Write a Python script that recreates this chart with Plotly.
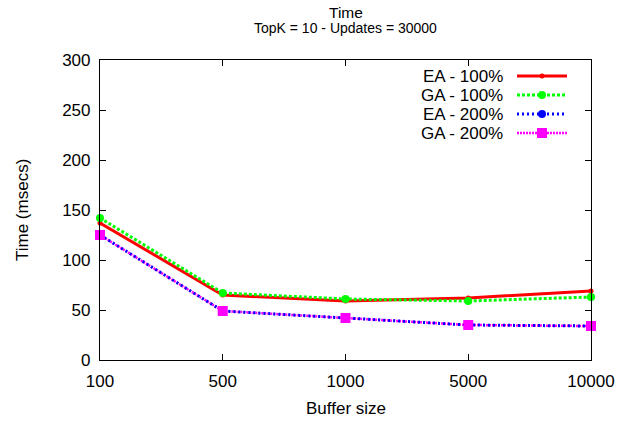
import plotly.graph_objects as go

buffer_sizes = ["100", "500", "1000", "5000", "10000"]
ea_100 = [137, 65, 59, 62, 69]
ga_100 = [142, 67, 61, 59, 63]
ea_200 = [125, 49, 42, 35, 34]
ga_200 = [125, 49, 42, 35, 34]
series_names = ["EA - 100%", "GA - 100%", "EA - 200%", "GA - 200%"]
y_ticks = [0, 50, 100, 150, 200, 250, 300]

FONT = "Liberation Sans, Arial, sans-serif"
FS = 17

styles = [
    dict(color="#ff0000", dash="solid", width=3, symbol="circle", size=5),
    dict(color="#00ff00", dash="3px,2px", width=3, symbol="circle", size=8),
    dict(color="#0000ff", dash="2px,3px", width=3, symbol="circle", size=8),
    dict(color="#ff00ff", dash="2px,1px", width=2.5, symbol="square", size=10),
]

fig = go.Figure()

def add(name, vals, st, mode):
    fig.add_trace(go.Scatter(
        x=buffer_sizes, y=vals, name=name, mode=mode,
        line=dict(color=st["color"], dash=st["dash"], width=st["width"]),
        marker=dict(color=st["color"], symbol=st["symbol"], size=st["size"]),
        cliponaxis=False, showlegend=False,
    ))

add(series_names[0], ea_100, styles[0], "lines+markers")
add(series_names[1], ga_100, styles[1], "lines+markers")
add(series_names[3], ga_200, styles[3], "lines")
add(series_names[2], ea_200, styles[2], "lines+markers")
add(series_names[3], ga_200, styles[3], "markers")

# geometry in window pixels (body margin removed via post_script)
OFF = 0
L, T, W_PLOT, H_PLOT = 100, 60, 491, 300
def px2paper(px, py):
    return (px - L) / W_PLOT, (T + H_PLOT - py) / H_PLOT

shapes = []
annotations = []
rows_py = [76, 95, 114, 133]
for name, st, py in zip(series_names, styles, rows_py):
    tx, ty = px2paper(505, py)
    annotations.append(dict(x=tx, y=ty, xref="paper", yref="paper", text=name,
                            showarrow=False, xanchor="right", yanchor="middle",
                            font=dict(family=FONT, size=FS, color="black")))
    x0, y0 = px2paper(517, py)
    x1, _ = px2paper(567, py)
    shapes.append(dict(type="line", xref="paper", yref="paper", x0=x0, x1=x1, y0=y0, y1=y0,
                       line=dict(color=st["color"], width=st["width"], dash=st["dash"])))
    r = st["size"] / 2
    cx, cy = 542, py
    a0, b0 = px2paper(cx - r, cy + r)
    a1, b1 = px2paper(cx + r, cy - r)
    shapes.append(dict(type="rect" if st["symbol"] == "square" else "circle",
                       xref="paper", yref="paper", x0=a0, x1=a1, y0=b0, y1=b1,
                       fillcolor=st["color"], line=dict(width=0)))

# titles
_, ty = px2paper(0, 12)
annotations.append(dict(x=0.5, y=ty, xref="paper", yref="paper", text="Time",
                        showarrow=False, xanchor="center", yanchor="middle",
                        font=dict(family=FONT, size=15.5, color="black")))
_, ty = px2paper(0, 28)
annotations.append(dict(x=0.5, y=ty, xref="paper", yref="paper",
                        text="TopK = 10 - Updates = 30000", showarrow=False,
                        xanchor="center", yanchor="middle",
                        font=dict(family=FONT, size=14, color="black")))
_, ty = px2paper(0, 408)
annotations.append(dict(x=0.5, y=ty, xref="paper", yref="paper", text="Buffer size",
                        showarrow=False, xanchor="center", yanchor="middle",
                        font=dict(family=FONT, size=FS, color="black")))
tx, _ = px2paper(22, 0)
annotations.append(dict(x=tx, y=0.5, xref="paper", yref="paper", text="Time (msecs)",
                        showarrow=False, xanchor="center", yanchor="middle", textangle=-90,
                        font=dict(family=FONT, size=FS, color="black")))

fig.update_layout(
    width=629, height=422,
    margin=dict(l=L - OFF, r=629 - (L - OFF) - W_PLOT, t=T - OFF, b=422 - (T - OFF) - H_PLOT),
    paper_bgcolor="white", plot_bgcolor="white",
    font=dict(family=FONT, size=FS, color="black"),
    shapes=shapes, annotations=annotations,
    xaxis=dict(type="category", categoryorder="array", categoryarray=buffer_sizes,
               range=[0, len(buffer_sizes) - 1],
               showline=True, linecolor="black", linewidth=1.2, mirror="allticks",
               ticks="inside", ticklen=6, tickcolor="black", showgrid=False, zeroline=False,
               ticklabelstandoff=5,
               tickfont=dict(family=FONT, size=FS)),
    yaxis=dict(range=[0, 300], tickvals=y_ticks,
               showline=True, linecolor="black", linewidth=1.2, mirror="allticks",
               ticks="inside", ticklen=6, tickcolor="black", showgrid=False, zeroline=False,
               ticklabelstandoff=5,
               tickfont=dict(family=FONT, size=FS)),
)

fig.write_html("out.html", config={"displayModeBar": False},
               post_script="document.body.style.margin='0px';")
